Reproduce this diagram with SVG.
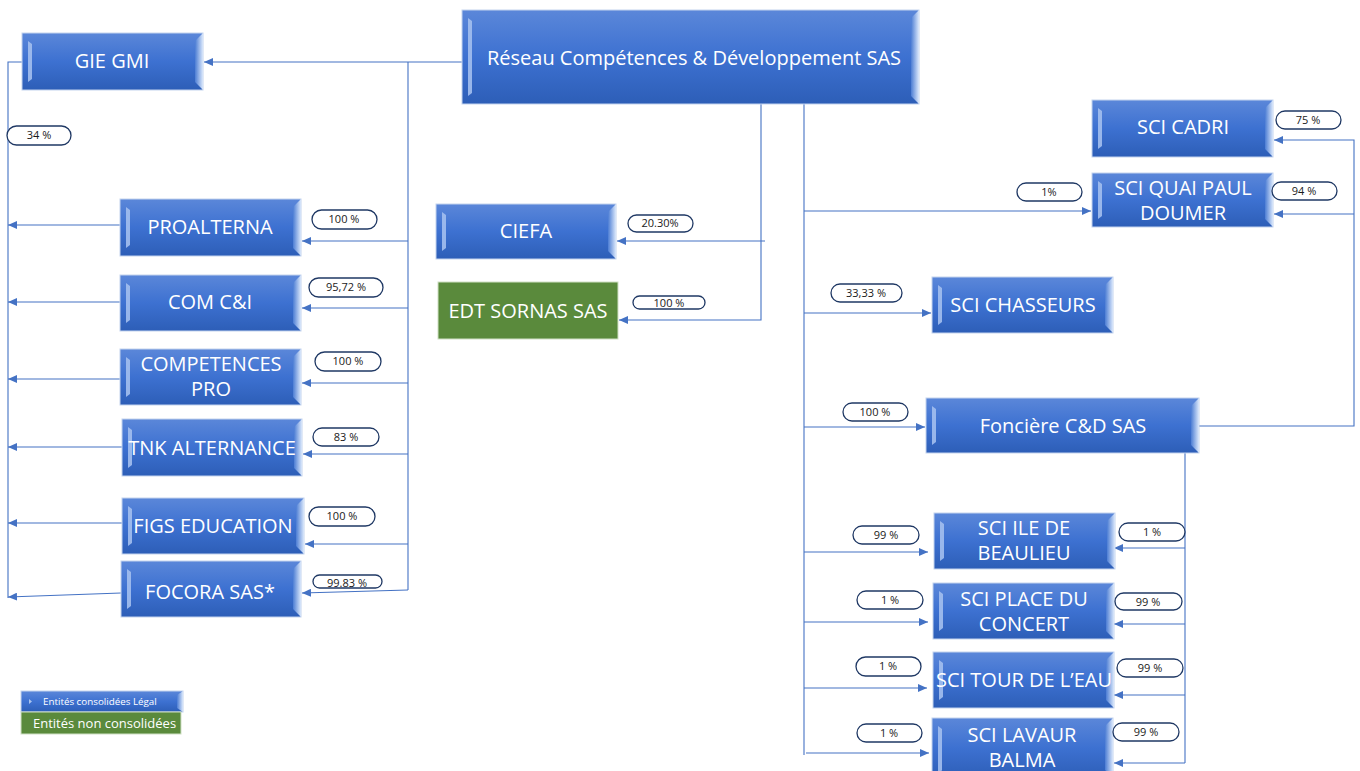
<svg xmlns="http://www.w3.org/2000/svg" width="1360" height="771" viewBox="0 0 1360 771">
<defs>
<linearGradient id="gBox" x1="0" y1="0" x2="0" y2="1">
<stop offset="0" stop-color="#5b87d9"/>
<stop offset="0.5" stop-color="#3d71d1"/>
<stop offset="1" stop-color="#2d5eb7"/>
</linearGradient>
<linearGradient id="gRight" x1="0" y1="0" x2="1" y2="0">
<stop offset="0" stop-color="#4c7dd4"/>
<stop offset="1" stop-color="#dbe8fb"/>
</linearGradient>
<marker id="arr" markerUnits="userSpaceOnUse" markerWidth="10" markerHeight="8" refX="9" refY="4" orient="auto">
<path d="M0,0 L9,4 L0,8 z" fill="#4472c4"/>
</marker>
</defs>
<style>
.box{fill:url(#gBox);stroke:#c3d3ee;stroke-width:1}
.br{fill:url(#gRight)}
.bl{fill:#a3bfee;opacity:0.9}
.green{fill:#5a8a3c;stroke:#cfe0c4;stroke-width:1}
.t{font-family:"Open Sans","Noto Sans",sans-serif;font-size:20px;fill:#ffffff;text-anchor:middle}
.pill{fill:#ffffff;stroke:#1f3864;stroke-width:1.3}
.lt{font-family:"Open Sans","Noto Sans",sans-serif;font-size:11px;fill:#1a1a1a;text-anchor:middle}
.c{fill:none;stroke:#4472c4;stroke-width:1.1}
.ca{fill:none;stroke:#4472c4;stroke-width:1.1;marker-end:url(#arr)}
.lg{font-family:"Open Sans","Noto Sans",sans-serif;fill:#ffffff}
</style>
<rect width="1360" height="771" fill="#ffffff"/>

<g id="connectors">
<path class="ca" d="M462,62 H204"/>
<path class="c" d="M408,62 V590"/>
<path class="ca" d="M408,241 H302"/>
<path class="ca" d="M408,308 H302"/>
<path class="ca" d="M408,383 H302"/>
<path class="ca" d="M408,454 H303"/>
<path class="ca" d="M408,544 H305"/>
<path class="ca" d="M408,590 L302,593"/>
<path class="c" d="M22,62 H8 V598"/>
<path class="ca" d="M120,225 H8"/>
<path class="ca" d="M120,302 H8"/>
<path class="ca" d="M120,379 H8"/>
<path class="ca" d="M122,447 H8"/>
<path class="ca" d="M122,523 H8"/>
<path class="ca" d="M121,593 L8,597"/>
<path class="ca" d="M761,104 V320 H619"/>
<path class="ca" d="M765,241 H617"/>
<path class="c" d="M804,104 V755"/>
<path class="ca" d="M804,211 H1091"/>
<path class="ca" d="M804,313 H931"/>
<path class="ca" d="M804,427 H925"/>
<path class="ca" d="M804,552 H928"/>
<path class="ca" d="M804,622 H928"/>
<path class="ca" d="M804,688 H927"/>
<path class="ca" d="M806,753 H929"/>
<path class="ca" d="M1199,426 H1354 V140 H1274"/>
<path class="ca" d="M1354,214 H1274"/>
<path class="c" d="M1185,453 V763"/>
<path class="ca" d="M1185,548 H1114"/>
<path class="ca" d="M1185,624 H1114"/>
<path class="ca" d="M1185,695 H1114"/>
<path class="ca" d="M1185,763 H1114"/>
</g>

<g id="n-main">
<rect class="box" x="462" y="10" width="457" height="94"/>
<polygon class="bl" points="468,18 472,21 472,93 468,96"/>
<polygon class="br" points="919,10 911,18 911,96 919,104"/>
<text class="t" x="694" y="65" font-size="20.4">Réseau Compétences &amp; Développement SAS</text>
</g>
<g id="n-gie">
<rect class="box" x="22" y="33" width="181" height="57"/>
<polygon class="bl" points="28,41 32,44 32,79 28,82"/>
<polygon class="br" points="203,33 195,41 195,82 203,90"/>
<text class="t" x="112" y="68">GIE GMI</text>
</g>
<g id="n-ciefa">
<rect class="box" x="436" y="204" width="180" height="55"/>
<polygon class="bl" points="442,212 446,215 446,248 442,251"/>
<polygon class="br" points="616,204 608,212 608,251 616,259"/>
<text class="t" x="526" y="238">CIEFA</text>
</g>
<g id="n-edt">
<rect class="green" x="438" y="282" width="180" height="57"/>
<text class="t" x="528" y="318">EDT SORNAS SAS</text>
</g>
<g id="n-cadri">
<rect class="box" x="1092" y="100" width="181" height="57"/>
<polygon class="bl" points="1098,108 1102,111 1102,146 1098,149"/>
<polygon class="br" points="1273,100 1265,108 1265,149 1273,157"/>
<text class="t" x="1183" y="134">SCI CADRI</text>
</g>
<g id="n-quai">
<rect class="box" x="1092" y="173" width="181" height="54"/>
<polygon class="bl" points="1098,181 1102,184 1102,216 1098,219"/>
<polygon class="br" points="1273,173 1265,181 1265,219 1273,227"/>
<text class="t" x="1183" y="195">SCI QUAI PAUL</text>
<text class="t" x="1183" y="220">DOUMER</text>
</g>
<g id="n-proalterna">
<rect class="box" x="120" y="199" width="181" height="57"/>
<polygon class="bl" points="126,207 130,210 130,245 126,248"/>
<polygon class="br" points="301,199 293,207 293,248 301,256"/>
<text class="t" x="210" y="234">PROALTERNA</text>
</g>
<g id="n-comci">
<rect class="box" x="120" y="275" width="181" height="56"/>
<polygon class="bl" points="126,283 130,286 130,320 126,323"/>
<polygon class="br" points="301,275 293,283 293,323 301,331"/>
<text class="t" x="210" y="309">COM C&amp;I</text>
</g>
<g id="n-competences">
<rect class="box" x="120" y="349" width="181" height="56"/>
<polygon class="bl" points="126,357 130,360 130,394 126,397"/>
<polygon class="br" points="301,349 293,357 293,397 301,405"/>
<text class="t" x="211" y="371">COMPETENCES</text>
<text class="t" x="211" y="396">PRO</text>
</g>
<g id="n-tnk">
<rect class="box" x="122" y="419" width="180" height="57"/>
<polygon class="bl" points="128,427 132,430 132,465 128,468"/>
<polygon class="br" points="302,419 294,427 294,468 302,476"/>
<text class="t" x="212" y="455">TNK ALTERNANCE</text>
</g>
<g id="n-figs">
<rect class="box" x="122" y="498" width="182" height="56"/>
<polygon class="bl" points="128,506 132,509 132,543 128,546"/>
<polygon class="br" points="304,498 296,506 296,546 304,554"/>
<text class="t" x="213" y="533">FIGS EDUCATION</text>
</g>
<g id="n-focora">
<rect class="box" x="121" y="561" width="180" height="56"/>
<polygon class="bl" points="127,569 131,572 131,606 127,609"/>
<polygon class="br" points="301,561 293,569 293,609 301,617"/>
<text class="t" x="210" y="599">FOCORA SAS*</text>
</g>
<g id="n-chasseurs">
<rect class="box" x="932" y="277" width="181" height="56"/>
<polygon class="bl" points="938,285 942,288 942,322 938,325"/>
<polygon class="br" points="1113,277 1105,285 1105,325 1113,333"/>
<text class="t" x="1023" y="312">SCI CHASSEURS</text>
</g>
<g id="n-fonciere">
<rect class="box" x="926" y="398" width="273" height="55"/>
<polygon class="bl" points="932,406 936,409 936,442 932,445"/>
<polygon class="br" points="1199,398 1191,406 1191,445 1199,453"/>
<text class="t" x="1063" y="433">Foncière C&amp;D SAS</text>
</g>
<g id="n-ile">
<rect class="box" x="934" y="513" width="181" height="56"/>
<polygon class="bl" points="940,521 944,524 944,558 940,561"/>
<polygon class="br" points="1115,513 1107,521 1107,561 1115,569"/>
<text class="t" x="1024" y="535">SCI ILE DE</text>
<text class="t" x="1024" y="560">BEAULIEU</text>
</g>
<g id="n-place">
<rect class="box" x="933" y="583" width="181" height="56"/>
<polygon class="bl" points="939,591 943,594 943,628 939,631"/>
<polygon class="br" points="1114,583 1106,591 1106,631 1114,639"/>
<text class="t" x="1024" y="606">SCI PLACE DU</text>
<text class="t" x="1024" y="631">CONCERT</text>
</g>
<g id="n-tour">
<rect class="box" x="933" y="652" width="181" height="56"/>
<polygon class="bl" points="939,660 943,663 943,697 939,700"/>
<polygon class="br" points="1114,652 1106,660 1106,700 1114,708"/>
<text class="t" x="1024" y="687">SCI TOUR DE L’EAU</text>
</g>
<g id="n-lavaur">
<rect class="box" x="932" y="718" width="181" height="60"/>
<polygon class="bl" points="938,726 942,729 942,770 938,778"/>
<polygon class="br" points="1113,718 1105,726 1105,770 1113,778"/>
<text class="t" x="1022" y="742">SCI LAVAUR</text>
<text class="t" x="1022" y="767">BALMA</text>
</g>

<g id="labels">
<rect class="pill" x="7" y="126" width="64" height="19" rx="9.5"/><text class="lt" x="39" y="139">34 %</text>
<rect class="pill" x="312" y="210" width="65" height="19" rx="9.5"/><text class="lt" x="344" y="223">100 %</text>
<rect class="pill" x="309" y="278" width="74" height="19" rx="9.5"/><text class="lt" x="346" y="291">95,72 %</text>
<rect class="pill" x="315" y="352" width="66" height="19" rx="9.5"/><text class="lt" x="348" y="365">100 %</text>
<rect class="pill" x="313" y="428" width="66" height="18" rx="9"/><text class="lt" x="346" y="441">83 %</text>
<rect class="pill" x="309" y="507" width="66" height="19" rx="9.5"/><text class="lt" x="342" y="520">100 %</text>
<rect class="pill" x="313" y="575" width="69" height="13" rx="6.5"/><text class="lt" x="347" y="587">99.83 %</text>
<rect class="pill" x="628" y="215" width="65" height="17" rx="8.5"/><text class="lt" x="660" y="227">20.30%</text>
<rect class="pill" x="633" y="296" width="72" height="13" rx="6.5"/><text class="lt" x="669" y="307">100 %</text>
<rect class="pill" x="1276" y="111" width="65" height="18" rx="9"/><text class="lt" x="1308" y="124">75 %</text>
<rect class="pill" x="1272" y="182" width="65" height="18" rx="9"/><text class="lt" x="1304" y="195">94 %</text>
<rect class="pill" x="1017" y="183" width="65" height="18" rx="9"/><text class="lt" x="1049" y="196">1%</text>
<rect class="pill" x="831" y="284" width="71" height="18" rx="9"/><text class="lt" x="866" y="297">33,33 %</text>
<rect class="pill" x="843" y="403" width="65" height="18" rx="9"/><text class="lt" x="875" y="416">100 %</text>
<rect class="pill" x="853" y="526" width="66" height="18" rx="9"/><text class="lt" x="886" y="539">99 %</text>
<rect class="pill" x="1119" y="523" width="66" height="18" rx="9"/><text class="lt" x="1152" y="536">1 %</text>
<rect class="pill" x="857" y="591" width="66" height="18" rx="9"/><text class="lt" x="890" y="604">1 %</text>
<rect class="pill" x="1115" y="593" width="67" height="17" rx="8.5"/><text class="lt" x="1148" y="606">99 %</text>
<rect class="pill" x="856" y="657" width="65" height="19" rx="9.5"/><text class="lt" x="888" y="670">1 %</text>
<rect class="pill" x="1117" y="659" width="66" height="18" rx="9"/><text class="lt" x="1150" y="672">99 %</text>
<rect class="pill" x="857" y="724" width="65" height="18" rx="9"/><text class="lt" x="889" y="737">1 %</text>
<rect class="pill" x="1113" y="723" width="66" height="18" rx="9"/><text class="lt" x="1146" y="736">99 %</text>
</g>

<g id="legend">
<rect class="box" x="21" y="691" width="162" height="21"/>
<polygon class="br" points="183,691 177,695 177,708 183,712"/>
<path d="M29,699 L32,701.5 L29,704 z" fill="#a9c3ee"/>
<text class="lg" x="43" y="705" font-size="9.8">Entités consolidées Légal</text>
<rect class="green" x="21" y="712" width="160" height="22"/>
<text class="lg" x="33" y="728" font-size="13">Entités non consolidées</text>
</g>
</svg>
